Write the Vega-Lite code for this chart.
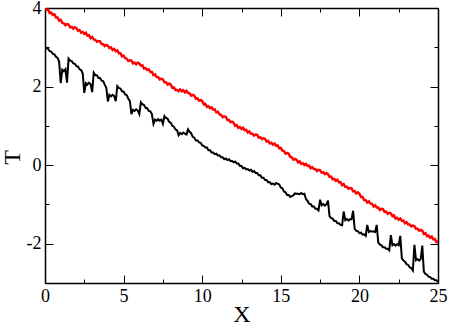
{
  "$schema": "https://vega.github.io/schema/vega-lite/v6.json",
  "autosize": "none",
  "width": 393,
  "height": 275,
  "padding": {"left": 45, "top": 8, "right": 12, "bottom": 43},
  "config": {
    "view": {"stroke": null},
    "axis": {
      "grid": false,
      "domainColor": "#000000",
      "domainWidth": 1.5,
      "tickColor": "#000000",
      "tickWidth": 1,
      "labelFont": "Liberation Serif",
      "labelFontSize": 18,
      "labelColor": "#000000",
      "titleFont": "Liberation Serif",
      "titleFontSize": 24,
      "titleFontWeight": "normal",
      "titleColor": "#000000"
    }
  },
  "data": {
    "values": [
      {"x":0.0,"red":3.99,"black":3.02},{"x":0.1,"red":3.95,"black":2.97},{"x":0.2,"red":3.96,"black":2.96},{"x":0.3,"red":3.87,"black":2.90},{"x":0.4,"red":3.88,"black":2.89},{"x":0.5,"red":3.82,"black":2.83},{"x":0.6,"red":3.84,"black":2.82},{"x":0.7,"red":3.76,"black":2.76},{"x":0.8,"red":3.76,"black":2.73},{"x":0.9,"red":3.68,"black":2.63},
      {"x":1.0,"red":3.70,"black":2.09},{"x":1.1,"red":3.62,"black":2.43},{"x":1.2,"red":3.61,"black":2.39},{"x":1.3,"red":3.56,"black":2.44},{"x":1.4,"red":3.59,"black":2.10},{"x":1.5,"red":3.58,"black":2.71},{"x":1.6,"red":3.51,"black":2.66},{"x":1.7,"red":3.52,"black":2.65},{"x":1.8,"red":3.47,"black":2.59},{"x":1.9,"red":3.51,"black":2.58},
      {"x":2.0,"red":3.49,"black":2.52},{"x":2.1,"red":3.42,"black":2.51},{"x":2.2,"red":3.44,"black":2.44},{"x":2.3,"red":3.37,"black":2.42},{"x":2.4,"red":3.39,"black":2.33},{"x":2.5,"red":3.34,"black":1.84},{"x":2.6,"red":3.37,"black":2.09},{"x":2.7,"red":3.30,"black":2.05},{"x":2.8,"red":3.31,"black":2.10},{"x":2.9,"red":3.23,"black":2.06},
      {"x":3.0,"red":3.26,"black":1.86},{"x":3.1,"red":3.20,"black":2.35},{"x":3.2,"red":3.19,"black":2.29},{"x":3.3,"red":3.14,"black":2.29},{"x":3.4,"red":3.16,"black":2.22},{"x":3.5,"red":3.15,"black":2.22},{"x":3.6,"red":3.08,"black":2.15},{"x":3.7,"red":3.08,"black":2.14},{"x":3.8,"red":3.03,"black":2.05},{"x":3.9,"red":3.06,"black":1.97},
      {"x":4.0,"red":3.04,"black":1.62},{"x":4.1,"red":2.98,"black":1.79},{"x":4.2,"red":3.00,"black":1.75},{"x":4.3,"red":2.93,"black":1.79},{"x":4.4,"red":2.96,"black":1.76},{"x":4.5,"red":2.90,"black":1.63},{"x":4.6,"red":2.92,"black":2.01},{"x":4.7,"red":2.85,"black":1.96},{"x":4.8,"red":2.85,"black":1.95},{"x":4.9,"red":2.77,"black":1.88},
      {"x":5.0,"red":2.79,"black":1.87},{"x":5.1,"red":2.72,"black":1.80},{"x":5.2,"red":2.71,"black":1.78},{"x":5.3,"red":2.65,"black":1.69},{"x":5.4,"red":2.67,"black":1.63},{"x":5.5,"red":2.66,"black":1.30},{"x":5.6,"red":2.59,"black":1.41},{"x":5.7,"red":2.61,"black":1.38},{"x":5.8,"red":2.57,"black":1.42},{"x":5.9,"red":2.61,"black":1.39},
      {"x":6.0,"red":2.59,"black":1.30},{"x":6.1,"red":2.53,"black":1.60},{"x":6.2,"red":2.54,"black":1.55},{"x":6.3,"red":2.46,"black":1.53},{"x":6.4,"red":2.47,"black":1.46},{"x":6.5,"red":2.42,"black":1.45},{"x":6.6,"red":2.44,"black":1.38},{"x":6.7,"red":2.37,"black":1.37},{"x":6.8,"red":2.37,"black":1.30},{"x":6.9,"red":2.29,"black":1.05},
      {"x":7.0,"red":2.31,"black":1.16},{"x":7.1,"red":2.24,"black":1.13},{"x":7.2,"red":2.24,"black":1.17},{"x":7.3,"red":2.18,"black":1.13},{"x":7.4,"red":2.20,"black":1.16},{"x":7.5,"red":2.18,"black":1.05},{"x":7.6,"red":2.11,"black":1.25},{"x":7.7,"red":2.11,"black":1.20},{"x":7.8,"red":2.05,"black":1.18},{"x":7.9,"red":2.08,"black":1.10},
      {"x":8.0,"red":2.05,"black":1.08},{"x":8.1,"red":1.97,"black":1.00},{"x":8.2,"red":1.98,"black":0.98},{"x":8.3,"red":1.91,"black":0.91},{"x":8.4,"red":1.92,"black":0.89},{"x":8.5,"red":1.88,"black":0.76},{"x":8.6,"red":1.93,"black":0.82},{"x":8.7,"red":1.88,"black":0.79},{"x":8.8,"red":1.91,"black":0.83},{"x":8.9,"red":1.85,"black":0.80},
      {"x":9.0,"red":1.89,"black":0.78},{"x":9.1,"red":1.84,"black":0.91},{"x":9.2,"red":1.83,"black":0.85},{"x":9.3,"red":1.77,"black":0.81},{"x":9.4,"red":1.79,"black":0.72},{"x":9.5,"red":1.77,"black":0.70},{"x":9.6,"red":1.69,"black":0.63},{"x":9.7,"red":1.70,"black":0.63},{"x":9.8,"red":1.64,"black":0.58},{"x":9.9,"red":1.66,"black":0.57},
      {"x":10.0,"red":1.63,"black":0.50},{"x":10.1,"red":1.55,"black":0.49},{"x":10.2,"red":1.56,"black":0.45},{"x":10.3,"red":1.48,"black":0.45},{"x":10.4,"red":1.50,"black":0.38},{"x":10.5,"red":1.45,"black":0.38},{"x":10.6,"red":1.47,"black":0.32},{"x":10.7,"red":1.41,"black":0.32},{"x":10.8,"red":1.42,"black":0.28},{"x":10.9,"red":1.34,"black":0.29},
      {"x":11.0,"red":1.36,"black":0.24},{"x":11.1,"red":1.29,"black":0.25},{"x":11.2,"red":1.28,"black":0.20},{"x":11.3,"red":1.22,"black":0.20},{"x":11.4,"red":1.24,"black":0.15},{"x":11.5,"red":1.23,"black":0.17},{"x":11.6,"red":1.15,"black":0.13},{"x":11.7,"red":1.15,"black":0.15},{"x":11.8,"red":1.09,"black":0.10},{"x":11.9,"red":1.11,"black":0.11},
      {"x":12.0,"red":1.08,"black":0.07},{"x":12.1,"red":1.00,"black":0.09},{"x":12.2,"red":1.02,"black":0.04},{"x":12.3,"red":0.95,"black":0.04},{"x":12.4,"red":0.97,"black":-0.02},{"x":12.5,"red":0.92,"black":-0.02},{"x":12.6,"red":0.95,"black":-0.08},{"x":12.7,"red":0.89,"black":-0.07},{"x":12.8,"red":0.90,"black":-0.11},{"x":12.9,"red":0.83,"black":-0.10},
      {"x":13.0,"red":0.86,"black":-0.14},{"x":13.1,"red":0.80,"black":-0.12},{"x":13.2,"red":0.80,"black":-0.17},{"x":13.3,"red":0.75,"black":-0.15},{"x":13.4,"red":0.78,"black":-0.20},{"x":13.5,"red":0.77,"black":-0.20},{"x":13.6,"red":0.70,"black":-0.26},{"x":13.7,"red":0.71,"black":-0.26},{"x":13.8,"red":0.66,"black":-0.32},{"x":13.9,"red":0.69,"black":-0.32},
      {"x":14.0,"red":0.67,"black":-0.38},{"x":14.1,"red":0.60,"black":-0.38},{"x":14.2,"red":0.62,"black":-0.44},{"x":14.3,"red":0.55,"black":-0.43},{"x":14.4,"red":0.57,"black":-0.48},{"x":14.5,"red":0.52,"black":-0.47},{"x":14.6,"red":0.55,"black":-0.50},{"x":14.7,"red":0.49,"black":-0.46},{"x":14.8,"red":0.50,"black":-0.47},{"x":14.9,"red":0.43,"black":-0.49},
      {"x":15.0,"red":0.44,"black":-0.57},{"x":15.1,"red":0.37,"black":-0.59},{"x":15.2,"red":0.36,"black":-0.67},{"x":15.3,"red":0.29,"black":-0.69},{"x":15.4,"red":0.31,"black":-0.76},{"x":15.5,"red":0.29,"black":-0.76},{"x":15.6,"red":0.21,"black":-0.81},{"x":15.7,"red":0.20,"black":-0.79},{"x":15.8,"red":0.14,"black":-0.77},{"x":15.9,"red":0.16,"black":-0.72},
      {"x":16.0,"red":0.14,"black":-0.73},{"x":16.1,"red":0.07,"black":-0.73},{"x":16.2,"red":0.10,"black":-0.74},{"x":16.3,"red":0.03,"black":-0.71},{"x":16.4,"red":0.05,"black":-0.74},{"x":16.5,"red":0.00,"black":-0.73},{"x":16.6,"red":0.03,"black":-0.86},{"x":16.7,"red":-0.02,"black":-0.91},{"x":16.8,"red":-0.01,"black":-0.98},{"x":16.9,"red":-0.08,"black":-0.99},
      {"x":17.0,"red":-0.05,"black":-1.05},{"x":17.1,"red":-0.10,"black":-1.05},{"x":17.2,"red":-0.10,"black":-1.11},{"x":17.3,"red":-0.15,"black":-1.11},{"x":17.4,"red":-0.12,"black":-1.15},{"x":17.5,"red":-0.13,"black":-0.88},{"x":17.6,"red":-0.19,"black":-1.02},{"x":17.7,"red":-0.18,"black":-0.99},{"x":17.8,"red":-0.23,"black":-1.03},{"x":17.9,"red":-0.20,"black":-1.00},
      {"x":18.0,"red":-0.23,"black":-0.90},{"x":18.1,"red":-0.30,"black":-1.30},{"x":18.2,"red":-0.29,"black":-1.35},{"x":18.3,"red":-0.36,"black":-1.36},{"x":18.4,"red":-0.35,"black":-1.42},{"x":18.5,"red":-0.40,"black":-1.42},{"x":18.6,"red":-0.37,"black":-1.48},{"x":18.7,"red":-0.44,"black":-1.48},{"x":18.8,"red":-0.43,"black":-1.52},{"x":18.9,"red":-0.51,"black":-1.53},
      {"x":19.0,"red":-0.48,"black":-1.18},{"x":19.1,"red":-0.55,"black":-1.40},{"x":19.2,"red":-0.55,"black":-1.37},{"x":19.3,"red":-0.60,"black":-1.41},{"x":19.4,"red":-0.58,"black":-1.38},{"x":19.5,"red":-0.59,"black":-1.38},{"x":19.6,"red":-0.67,"black":-1.16},{"x":19.7,"red":-0.66,"black":-1.62},{"x":19.8,"red":-0.72,"black":-1.67},{"x":19.9,"red":-0.69,"black":-1.68},
      {"x":20.0,"red":-0.73,"black":-1.73},{"x":20.1,"red":-0.81,"black":-1.72},{"x":20.2,"red":-0.81,"black":-1.77},{"x":20.3,"red":-0.89,"black":-1.76},{"x":20.4,"red":-0.89,"black":-1.80},{"x":20.5,"red":-0.95,"black":-1.52},{"x":20.6,"red":-0.92,"black":-1.70},{"x":20.7,"red":-0.98,"black":-1.68},{"x":20.8,"red":-0.98,"black":-1.69},{"x":20.9,"red":-1.05,"black":-1.69},
      {"x":21.0,"red":-1.02,"black":-1.70},{"x":21.1,"red":-1.08,"black":-1.52},{"x":21.2,"red":-1.08,"black":-1.97},{"x":21.3,"red":-1.14,"black":-2.02},{"x":21.4,"red":-1.11,"black":-2.04},{"x":21.5,"red":-1.12,"black":-2.09},{"x":21.6,"red":-1.19,"black":-2.09},{"x":21.7,"red":-1.18,"black":-2.13},{"x":21.8,"red":-1.24,"black":-2.13},{"x":21.9,"red":-1.21,"black":-2.17},
      {"x":22.0,"red":-1.23,"black":-1.78},{"x":22.1,"red":-1.30,"black":-2.04},{"x":22.2,"red":-1.28,"black":-2.01},{"x":22.3,"red":-1.36,"black":-2.05},{"x":22.4,"red":-1.34,"black":-2.01},{"x":22.5,"red":-1.39,"black":-2.04},{"x":22.6,"red":-1.36,"black":-1.80},{"x":22.7,"red":-1.42,"black":-2.37},{"x":22.8,"red":-1.41,"black":-2.43},{"x":22.9,"red":-1.48,"black":-2.46},
      {"x":23.0,"red":-1.45,"black":-2.52},{"x":23.1,"red":-1.51,"black":-2.54},{"x":23.2,"red":-1.51,"black":-2.60},{"x":23.3,"red":-1.56,"black":-2.62},{"x":23.4,"red":-1.54,"black":-2.68},{"x":23.5,"red":-1.55,"black":-2.03},{"x":23.6,"red":-1.62,"black":-2.42},{"x":23.7,"red":-1.62,"black":-2.39},{"x":23.8,"red":-1.67,"black":-2.43},{"x":23.9,"red":-1.65,"black":-2.39},
      {"x":24.0,"red":-1.67,"black":-2.05},{"x":24.1,"red":-1.75,"black":-2.71},{"x":24.2,"red":-1.73,"black":-2.77},{"x":24.3,"red":-1.81,"black":-2.79},{"x":24.4,"red":-1.79,"black":-2.84},{"x":24.5,"red":-1.85,"black":-2.85},{"x":24.6,"red":-1.82,"black":-2.89},{"x":24.7,"red":-1.89,"black":-2.89},{"x":24.8,"red":-1.88,"black":-2.93},{"x":24.9,"red":-1.96,"black":-2.93},
      {"x":25.0,"red":-1.93,"black":-2.97}
    ]
  },
  "layer": [
    {
      "mark": {"type": "line", "color": "#000000", "strokeWidth": 2, "clip": true},
      "encoding": {
        "x": {
          "field": "x", "type": "quantitative",
          "scale": {"domain": [0, 25], "nice": false, "zero": false},
          "axis": {
            "orient": "bottom",
            "title": "X",
            "values": [0, 2.5, 5, 7.5, 10, 12.5, 15, 17.5, 20, 22.5, 25],
            "labelExpr": "datum.value % 5 == 0 ? '' + datum.value : ''",
            "tickSize": {"condition": {"test": "datum.value % 5 != 0", "value": -4}, "value": -8},
            "labelPadding": 12,
            "labelFlush": false,
            "titlePadding": -3
          }
        },
        "y": {
          "field": "black", "type": "quantitative",
          "scale": {"domain": [-3, 4], "nice": false, "zero": false},
          "axis": {
            "orient": "left",
            "title": "T",
            "values": [-3, -2, -1, 0, 1, 2, 3, 4],
            "labelExpr": "datum.value % 2 == 0 ? '' + datum.value : ''",
            "tickSize": {"condition": {"test": "datum.value % 2 != 0", "value": -4}, "value": -8},
            "labelPadding": 12,
            "labelFlush": false,
            "titlePadding": 2,
            "titleY": 149
          }
        }
      }
    },
    {
      "mark": {"type": "line", "color": "#ff0000", "strokeWidth": 2.4, "clip": true},
      "encoding": {
        "x": {
          "field": "x", "type": "quantitative",
          "scale": {"domain": [0, 25], "nice": false, "zero": false},
          "axis": {
            "orient": "top",
            "title": null,
            "values": [0, 2.5, 5, 7.5, 10, 12.5, 15, 17.5, 20, 22.5, 25],
            "labels": false,
            "tickSize": {"condition": {"test": "datum.value % 5 != 0", "value": -4}, "value": -8}
          }
        },
        "y": {
          "field": "red", "type": "quantitative",
          "scale": {"domain": [-3, 4], "nice": false, "zero": false},
          "axis": {
            "orient": "right",
            "title": null,
            "values": [-3, -2, -1, 0, 1, 2, 3, 4],
            "labels": false,
            "tickSize": {"condition": {"test": "datum.value % 2 != 0", "value": -4}, "value": -8}
          }
        }
      }
    }
  ],
  "resolve": {"axis": {"x": "independent", "y": "independent"}}
}
